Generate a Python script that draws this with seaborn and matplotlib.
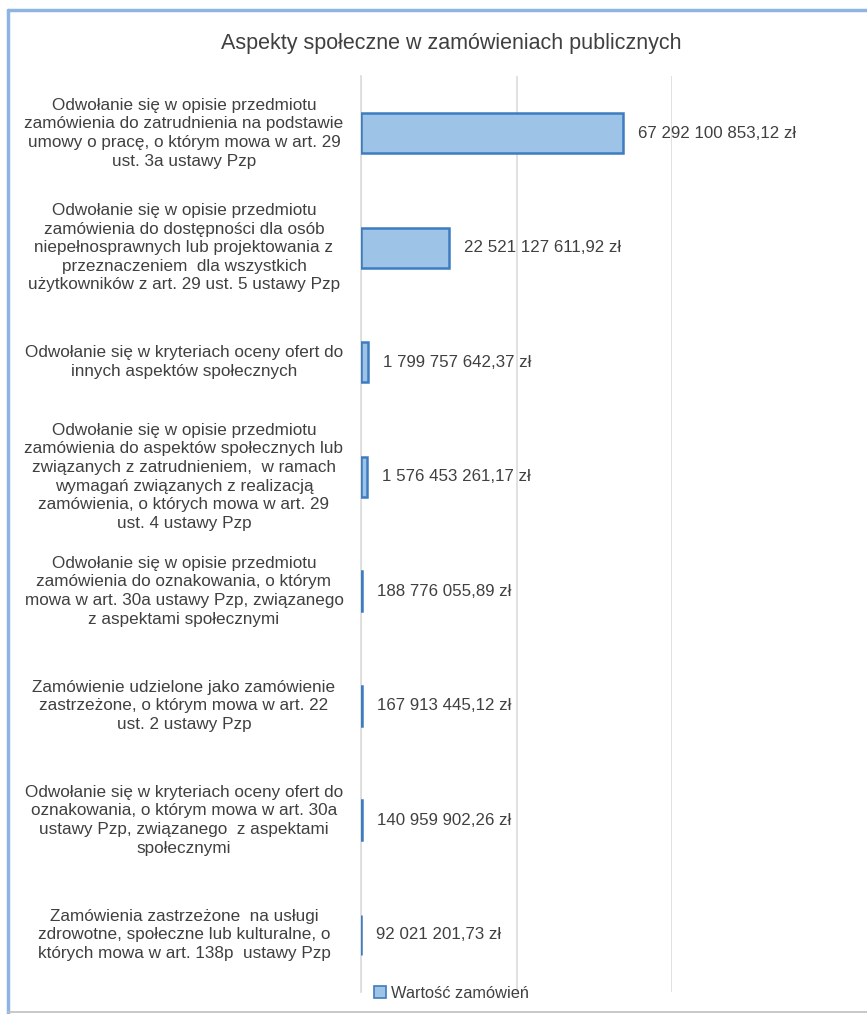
import matplotlib
matplotlib.use("Agg")
import matplotlib.pyplot as plt
import matplotlib.transforms as mtransforms
from matplotlib.patches import Patch
from matplotlib.lines import Line2D
import seaborn as sns
import pandas as pd

categories = [
    "Odwołanie się w opisie przedmiotu\nzamówienia do zatrudnienia na podstawie\numowy o pracę, o którym mowa w art. 29\nust. 3a ustawy Pzp",
    "Odwołanie się w opisie przedmiotu\nzamówienia do dostępności dla osób\nniepełnosprawnych lub projektowania z\nprzeznaczeniem  dla wszystkich\nużytkowników z art. 29 ust. 5 ustawy Pzp",
    "Odwołanie się w kryteriach oceny ofert do\ninnych aspektów społecznych",
    "Odwołanie się w opisie przedmiotu\nzamówienia do aspektów społecznych lub\nzwiązanych z zatrudnieniem,  w ramach\nwymagań związanych z realizacją\nzamówienia, o których mowa w art. 29\nust. 4 ustawy Pzp",
    "Odwołanie się w opisie przedmiotu\nzamówienia do oznakowania, o którym\nmowa w art. 30a ustawy Pzp, związanego\nz aspektami społecznymi",
    "Zamówienie udzielone jako zamówienie\nzastrzeżone, o którym mowa w art. 22\nust. 2 ustawy Pzp",
    "Odwołanie się w kryteriach oceny ofert do\noznakowania, o którym mowa w art. 30a\nustawy Pzp, związanego  z aspektami\nspołecznymi",
    "Zamówienia zastrzeżone  na usługi\nzdrowotne, społeczne lub kulturalne, o\nktórych mowa w art. 138p  ustawy Pzp",
]
values = [
    67292100853.12,
    22521127611.92,
    1799757642.37,
    1576453261.17,
    188776055.89,
    167913445.12,
    140959902.26,
    92021201.73,
]
series_name = "Wartość zamówień"
title = "Aspekty społeczne w zamówieniach publicznych"

sns.set_theme(style="white")
plt.rcParams["font.family"] = ["Liberation Sans", "DejaVu Sans"]

TEXT = "#404040"
FILL = "#9dc3e6"
EDGE = "#3d7cc0"
GRID = "#dcdcdc"

W, H = 867, 1014
fig = plt.figure(figsize=(W / 100, H / 100), dpi=100)
fig.patch.set_facecolor("white")

left_px, right_px, top_px, bottom_px = 361, 672, 76, 992
ax = fig.add_axes([left_px / W, 1 - bottom_px / H,
                   (right_px - left_px) / W, (bottom_px - top_px) / H])

df = pd.DataFrame({"cat": categories, "val": values})
sns.barplot(data=df, x="val", y="cat", orient="h", color=FILL,
            edgecolor=EDGE, linewidth=1.8, width=0.35, saturation=1, ax=ax)

ax.set_xlim(0, 80e9)
ax.set_ylim(len(categories) - 0.5, -0.5)
ax.set_xticks([0, 40e9, 80e9])
ax.xaxis.grid(True, color=GRID, linewidth=1.2)
ax.set_axisbelow(True)
ax.tick_params(left=False, bottom=False, labelbottom=False, labelleft=False)
ax.set_xlabel("")
ax.set_ylabel("")
for s in ["top", "right", "bottom"]:
    ax.spines[s].set_visible(False)
ax.spines["left"].set_color(GRID)
ax.spines["left"].set_linewidth(1.2)
ax.spines["left"].set_zorder(0.5)


def fmt(v):
    whole, frac = f"{v:.2f}".split(".")
    whole = f"{int(whole):,}".replace(",", " ")
    return f"{whole},{frac} zł"


offset = mtransforms.offset_copy(ax.transData, fig=fig, x=15, y=0, units="dots")
for i, v in enumerate(values):
    ax.text(v, i, fmt(v), transform=offset, ha="left", va="center",
            fontsize=12.2, color=TEXT, clip_on=False)

lab_trans = mtransforms.blended_transform_factory(fig.transFigure, ax.transData)
for i, c in enumerate(categories):
    ax.text(184 / W, i, c, transform=lab_trans, ha="center", va="center",
            fontsize=12.3, color=TEXT, linespacing=1.3, clip_on=False)

fig.text(451 / W, 1 - 43 / H, title, ha="center", va="center",
         fontsize=15.5, color=TEXT)

handle = Patch(facecolor=FILL, edgecolor=EDGE, linewidth=1.2)
fig.legend([handle], [series_name], loc="center left",
           bbox_to_anchor=(366 / W, 1 - 993 / H), frameon=False,
           fontsize=11.8, handlelength=0.7, handleheight=0.7,
           handletextpad=0.3, borderpad=0, labelcolor=TEXT)

# chart frame
fig.add_artist(Line2D([8 / W, 8 / W], [0, 1 - 10 / H], transform=fig.transFigure,
                      color="#8eb4e3", linewidth=2.5))
fig.add_artist(Line2D([8 / W, 1], [1 - 10 / H, 1 - 10 / H], transform=fig.transFigure,
                      color="#8eb4e3", linewidth=2.5))
fig.add_artist(Line2D([8 / W, 1], [1 - 1012 / H, 1 - 1012 / H], transform=fig.transFigure,
                      color="#bfbfbf", linewidth=1.2))

fig.savefig("out.png", dpi=100)
